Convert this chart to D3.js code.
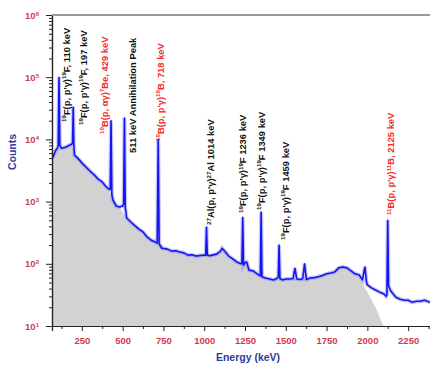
<!DOCTYPE html>
<html>
<head>
<meta charset="utf-8">
<script src="https://cdn.jsdelivr.net/npm/d3@7"></script>
<style>
body { margin: 0; background: #fff; }
svg { display: block; font-family: "Liberation Sans", Arial, sans-serif; font-weight: bold; }
</style>
</head>
<body>
<script>
//gamma spectrum: energy (keV) and counts
var energy = [70, 90, 100, 105, 110, 115, 125, 150, 175, 190, 193, 197, 201, 205, 225, 250, 275, 300, 325, 350,
    375, 400, 420, 424, 429, 434, 440, 460, 480, 500, 506, 511, 516, 525, 550, 575, 600, 625, 650, 675,
    700, 712, 718, 724, 740, 760, 775, 800, 825, 850, 875, 900, 925, 950, 975, 1000, 1009, 1014, 1019, 1035,
    1050, 1075, 1100, 1110, 1125, 1150, 1175, 1200, 1225, 1231, 1236, 1241, 1250, 1260, 1275, 1300, 1325, 1344, 1349, 1354,
    1375, 1400, 1425, 1450, 1454, 1459, 1464, 1480, 1500, 1525, 1545, 1556, 1567, 1590, 1604, 1615, 1626, 1650, 1675, 1700,
    1725, 1750, 1775, 1800, 1825, 1850, 1875, 1900, 1925, 1950, 1970, 1985, 1995, 2000, 2025, 2050, 2075, 2100, 2115, 2120,
    2125, 2130, 2140, 2150, 2175, 2200, 2225, 2250, 2275, 2300, 2325, 2350, 2384];
var counts = [5000, 6700, 7200, 8000, 100000, 8000, 7200, 7500, 8100, 8400, 9000, 33000, 8000, 5600, 5000, 4200, 3600, 3100, 2700, 2300,
    2070, 1720, 1550, 1600, 20000, 1300, 1070, 850, 820, 850, 900, 22000, 800, 545, 470, 410, 360, 325, 270, 240,
    225, 215, 10000, 210, 178, 175, 172, 160, 162, 155, 150, 138, 140, 133, 136, 138, 137, 390, 138, 135,
    138, 143, 160, 178, 160, 133, 120, 107, 100, 100, 560, 95, 104, 107, 79, 77, 69, 64, 680, 62,
    59, 57, 55, 59, 62, 200, 58, 55, 57, 57, 58, 85, 57, 56, 58, 100, 56, 59, 60, 62,
    65, 69, 71, 74, 86, 89, 86, 77, 69, 66, 55, 89, 50, 46, 41, 38, 35, 33, 30, 32,
    500, 45, 38, 35, 29, 27, 26, 26, 24, 25, 25, 26, 24];

//grey continuum drawn under the spectrum
var contEnergy = [70, 100, 150, 190, 205, 250, 300, 350, 400, 440, 480, 525, 575, 625, 675, 725, 800, 900, 1000, 1075,
    1110, 1150, 1200, 1250, 1300, 1350, 1400, 1500, 1600, 1700, 1800, 1850, 1900, 1950, 2000, 2050, 2080, 2100];
var contCounts = [5000, 7200, 7500, 8400, 5600, 4200, 3100, 2300, 1720, 1070, 820, 545, 410, 325, 240, 205, 160, 138, 138, 143,
    175, 133, 107, 100, 77, 65, 57, 57, 57, 62, 74, 89, 77, 60, 35, 20, 13, 10];

//axis ticks
var xMajor = [250, 500, 750, 1000, 1250, 1500, 1750, 2000, 2250];
var xMinor = [125, 375, 625, 875, 1125, 1375, 1625, 1875, 2125, 2375];
var yExponents = [1, 2, 3, 4, 5, 6];

//peak annotations (^ marks a superscript group)
var peakEnergy = [110, 197, 429, 511, 718, 1014, 1236, 1349, 1459, 2125];
var peakText = ["^19F(p, p'γ)^19F, 110 keV", "^19F(p, p'γ)^19F, 197 keV", "^10B(p, αγ)^7Be, 429 keV",
    "511 keV Annihilation Peak", "^10B(p, p'γ)^10B, 718 keV", "^27Al(p, p'γ)^27Al 1014 keV",
    "^19F(p, p'γ)^19F 1236 keV", "^19F(p, p'γ)^19F 1349 keV", "^19F(p, p'γ)^19F 1459 keV",
    "^11B(p, p'γ)^11B, 2125 keV"];
var peakSource = ["F", "F", "B", "e", "B", "Al", "F", "F", "F", "B"];

//layout
var width = 430, height = 367;
var margin = {left: 52, right: 0, top: 15, bottom: 41};
var labelDx = [7, 10, -7, 8, 2, 4, 0, 0, 6, 3];
var labelBottom = [122, 125, 134, 153, 141, 225, 213, 210, 240, 215];

var svg = d3.select("body").append("svg")
    .attr("width", width)
    .attr("height", height);

var x = d3.scaleLinear()
    .domain([67, 2384])
    .range([margin.left, width - margin.right]);

var y = d3.scaleLog()
    .domain([10, 1e6])
    .range([height - margin.bottom, margin.top]);

svg.append("clipPath").attr("id", "plot")
    .append("rect")
    .attr("x", margin.left).attr("y", margin.top)
    .attr("width", width - margin.left - margin.right)
    .attr("height", height - margin.top - margin.bottom);

var plot = svg.append("g").attr("clip-path", "url(#plot)");

//grey continuum area
var area = d3.area()
    .x(function(d, i) { return x(contEnergy[i]); })
    .y0(y(10))
    .y1(function(d) { return y(d); });

plot.append("path")
    .datum(contCounts)
    .attr("fill", "#d2d2d2")
    .attr("d", area);

//spectrum line
var line = d3.line()
    .x(function(d, i) { return x(energy[i]); })
    .y(function(d) { return y(d); });

plot.append("path")
    .datum(counts)
    .attr("fill", "none")
    .attr("stroke", "#7f7ff0")
    .attr("stroke-width", 4)
    .attr("stroke-opacity", 0.45)
    .attr("d", line);

plot.append("path")
    .datum(counts)
    .attr("fill", "none")
    .attr("stroke", "#1515f0")
    .attr("stroke-width", 1.6)
    .attr("stroke-linejoin", "round")
    .attr("d", line);

//x axis
svg.append("g")
    .attr("transform", "translate(0," + y(10) + ")")
    .call(d3.axisBottom(x).tickValues(xMinor).tickSize(3).tickFormat(""));

svg.append("g")
    .attr("transform", "translate(0," + y(10) + ")")
    .call(d3.axisBottom(x).tickValues(xMajor).tickSize(5).tickPadding(6).tickFormat(d3.format("d")));

//y axis
var yMinorValues = [];
yExponents.forEach(function(e) {
    if (e == 6) return;
    for (var k = 2; k < 10; k++) yMinorValues.push(k * Math.pow(10, e));
});

svg.append("g")
    .attr("transform", "translate(" + margin.left + ",0)")
    .call(d3.axisLeft(y).tickValues(yMinorValues).tickSize(3).tickFormat(""));

var yAxis = svg.append("g")
    .attr("transform", "translate(" + margin.left + ",0)")
    .call(d3.axisLeft(y).tickValues(yExponents.map(function(e) { return Math.pow(10, e); }))
        .tickSize(6).tickPadding(7).tickFormat(""));

yAxis.selectAll(".tick text")
    .each(function(d, i) {
        var t = d3.select(this);
        t.append("tspan").text("10");
        t.append("tspan").attr("dy", "-0.5em").attr("font-size", "6px").text(yExponents[i]);
    });

svg.selectAll(".domain").attr("stroke", "#222").attr("stroke-width", 1.2);
svg.selectAll(".tick line").attr("stroke", "#222");
svg.selectAll(".tick text")
    .attr("fill", "#d23a4e")
    .attr("font-size", "9.5px")
    .attr("font-weight", "bold")
    .attr("font-family", "'Liberation Sans', Arial, sans-serif");

//top frame
svg.append("line")
    .attr("x1", margin.left).attr("x2", width)
    .attr("y1", margin.top).attr("y2", margin.top)
    .attr("stroke", "#9a9a9a")
    .attr("stroke-width", 2);

//axis titles
svg.append("text")
    .attr("x", 248).attr("y", 361)
    .attr("text-anchor", "middle")
    .attr("fill", "#2f3c9e")
    .attr("font-size", "10.5px")
    .text("Energy (keV)");

svg.append("text")
    .attr("transform", "translate(16,152) rotate(-90)")
    .attr("text-anchor", "middle")
    .attr("fill", "#2f3c9e")
    .attr("font-size", "10.5px")
    .text("Counts");

//peak labels
var sourceColor = {F: "#111", e: "#111", Al: "#111", B: "#f52a2a"};

peakText.forEach(function(str, i) {
    var px = x(peakEnergy[i]) + labelDx[i] + 3.5;
    var t = svg.append("text")
        .attr("transform", "translate(" + px + "," + labelBottom[i] + ") rotate(-90)")
        .attr("fill", sourceColor[peakSource[i]])
        .attr("font-size", "9.4px");
    var parts = str.split(/(\^\d+)/);
    var sup = false;
    parts.forEach(function(p) {
        if (!p) return;
        if (p[0] == "^") {
            t.append("tspan").attr("font-size", "6.2px").attr("dy", sup ? 0 : -3.4).text(p.slice(1));
            sup = true;
        } else {
            t.append("tspan").attr("dy", sup ? 3.4 : 0).text(p);
            sup = false;
        }
    });
});
</script>
</body>
</html>
